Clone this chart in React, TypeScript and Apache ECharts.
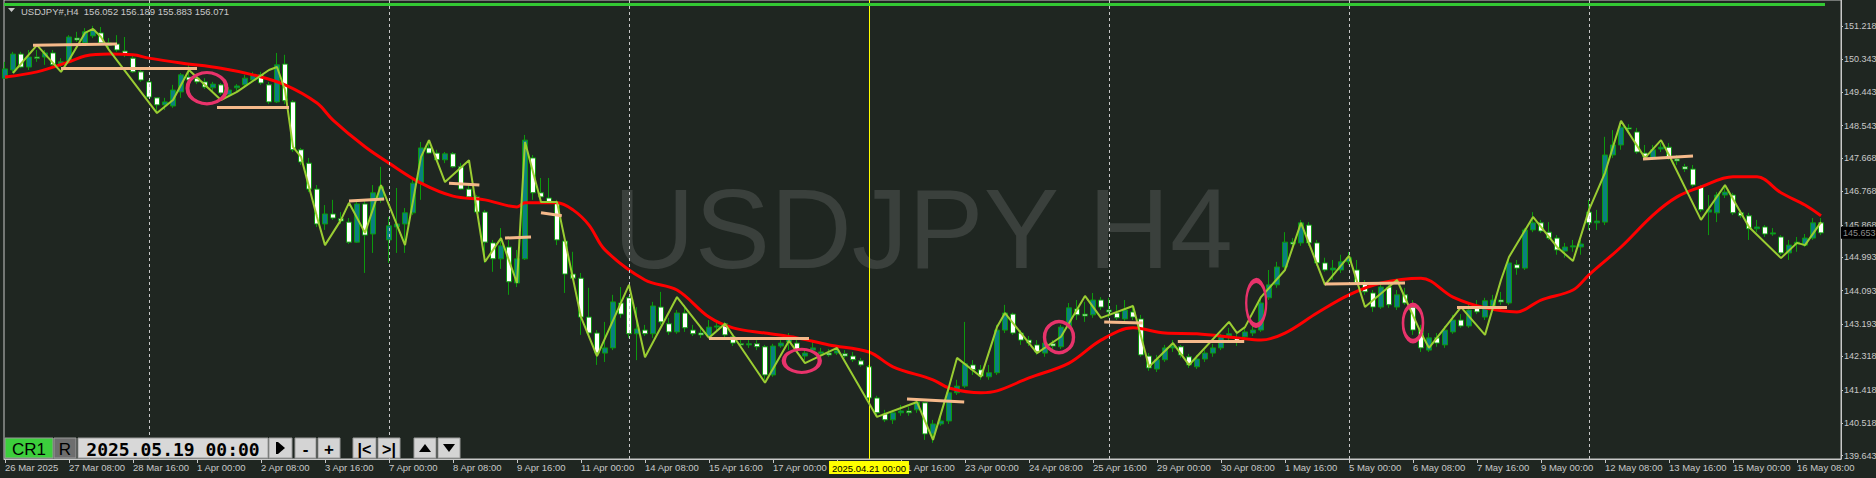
import { useEffect, useRef } from "react";
import * as echarts from "echarts";

// ---------- DATA ----------
const opens = [
  149.82,150.04,150.47,150.12,150.39,150.39,150.50,150.20,150.26,150.90,
  150.77,150.96,151.04,150.77,150.74,150.55,150.36,149.99,149.72,149.29,
  149.10,149.07,149.45,149.85,149.82,149.72,149.56,149.64,149.37,149.56,
  149.64,149.77,149.91,149.64,149.18,150.20,149.18,147.89,147.53,146.83,
  145.89,146.16,146.03,145.94,145.40,146.43,145.62,146.54,145.46,145.81,
  145.89,146.19,146.99,147.94,147.80,147.62,147.78,147.43,146.83,146.62,
  146.21,145.38,144.95,145.27,144.30,144.95,147.67,146.73,146.59,146.48,
  145.43,144.54,144.43,143.38,142.95,142.41,142.55,143.76,143.90,142.93,
  143.03,142.93,143.65,143.20,142.98,143.49,143.03,142.95,142.87,143.11,
  143.20,142.85,142.66,142.63,142.66,142.58,141.82,142.60,142.71,142.68,
  142.33,142.49,142.39,142.41,142.41,142.39,142.33,142.20,142.04,141.20,
  140.77,140.61,140.80,140.85,140.88,141.07,140.23,140.50,140.58,141.34,
  141.52,142.09,141.96,141.77,141.88,143.03,143.46,142.95,142.76,142.63,
  142.41,142.66,142.58,143.11,143.60,143.46,143.44,143.84,143.57,143.49,
  143.33,143.52,143.33,142.33,141.98,142.23,142.55,142.58,142.31,142.04,
  142.25,142.41,142.55,142.87,142.82,142.85,142.95,143.03,143.90,144.25,
  144.73,145.40,145.38,145.86,145.38,144.84,144.65,144.65,144.87,144.65,
  144.30,144.03,143.65,144.19,143.65,143.98,143.65,143.03,142.49,142.82,
  142.63,142.98,143.30,143.14,143.63,143.38,143.68,143.84,143.76,144.79,
  144.70,145.73,145.92,145.67,145.51,145.16,145.27,145.27,146.21,145.92,
  145.94,147.75,148.02,148.48,148.37,147.80,147.67,147.91,147.96,147.64,
  147.43,147.37,146.89,146.21,146.19,146.67,146.67,146.19,146.11,145.76,
  145.81,145.62,145.54,145.11,145.35,145.32,145.51,145.92,
];
const highs = [
  150.26,150.53,150.53,150.58,150.58,150.58,150.58,150.36,150.98,151.07,
  151.17,151.23,151.20,150.90,150.98,150.93,150.45,150.04,149.77,149.31,
  149.29,149.64,149.96,150.23,149.91,149.82,149.72,149.69,149.58,149.66,
  149.91,149.99,149.99,149.72,150.50,150.45,149.23,147.94,147.67,146.94,
  146.40,146.54,146.21,146.05,146.54,146.54,146.94,147.43,146.08,146.86,
  146.32,147.13,148.10,148.15,147.89,147.83,147.83,147.53,146.94,146.67,
  146.27,145.46,145.78,145.46,145.19,148.29,147.75,147.13,147.13,146.54,
  145.51,145.14,144.57,144.17,143.03,143.25,143.98,144.19,143.95,143.65,
  143.17,143.79,144.06,143.36,143.57,143.71,143.17,143.09,143.30,143.25,
  143.25,142.90,142.82,142.76,142.76,142.63,142.66,142.76,142.95,142.82,
  142.49,142.71,142.55,142.52,142.55,142.49,142.44,142.28,142.09,141.26,
  140.88,140.88,141.01,140.96,141.20,141.10,140.61,140.72,141.42,141.69,
  143.25,142.22,142.09,142.09,143.17,143.71,143.50,143.03,142.87,142.76,
  142.76,142.76,143.17,143.76,143.84,143.79,144.03,143.92,143.90,143.71,
  143.84,143.71,143.44,142.41,142.36,142.63,142.76,142.63,142.39,142.36,
  142.49,142.66,142.93,143.09,142.93,143.09,143.17,143.90,144.65,144.87,
  145.67,145.51,146.00,145.94,145.46,144.98,144.92,145.06,145.14,144.92,
  144.38,144.11,144.27,144.27,144.11,144.17,143.84,143.17,142.95,142.95,
  143.14,143.44,143.46,143.73,143.84,143.90,143.98,144.06,144.92,144.92,
  145.78,146.21,146.00,145.94,145.59,145.38,145.46,145.46,146.54,146.27,
  148.24,148.42,148.61,148.58,148.48,148.02,148.02,148.07,148.07,147.75,
  147.51,147.48,146.94,146.67,146.75,146.94,146.73,146.27,146.19,146.00,
  145.86,145.78,145.59,145.46,145.54,145.62,146.05,146.05,
];
const lows = [
  149.80,149.96,150.09,150.04,150.26,150.18,150.15,150.12,150.23,150.80,
  150.71,150.90,150.71,150.63,150.53,150.39,149.96,149.72,149.29,148.88,
  148.96,149.02,149.29,149.72,149.66,149.53,149.45,149.37,149.31,149.42,
  149.56,149.72,149.64,149.12,149.15,149.12,147.83,147.48,146.75,145.81,
  145.73,146.00,145.89,145.35,145.38,144.57,145.11,146.46,144.84,145.11,
  145.11,146.13,146.54,147.78,147.56,147.53,147.40,146.81,146.56,146.16,
  144.84,144.60,144.68,143.98,144.19,144.92,146.54,146.54,146.43,145.32,
  144.03,144.38,142.90,142.90,142.09,142.17,142.49,143.36,142.82,142.22,
  142.87,142.82,143.17,142.90,142.93,142.98,142.87,142.82,142.82,143.03,
  142.82,142.60,142.55,142.55,142.49,141.69,141.77,142.55,142.49,142.44,
  142.22,142.41,142.31,142.31,142.36,142.28,142.17,142.04,141.15,140.74,
  140.55,140.50,140.72,140.72,140.80,140.07,139.99,140.45,140.50,141.28,
  141.47,141.82,141.69,141.69,141.82,142.95,142.90,142.63,142.60,142.36,
  142.31,142.49,142.52,143.06,143.30,143.25,143.36,143.57,143.36,143.30,
  143.28,143.30,142.31,141.93,141.90,142.17,142.44,142.28,142.01,141.98,
  142.17,142.31,142.49,142.76,142.60,142.76,142.87,142.98,143.84,144.17,
  144.68,145.19,145.30,145.30,144.76,144.60,144.38,144.57,144.79,144.25,
  143.98,143.52,143.60,143.63,143.57,143.71,142.90,142.44,142.44,142.58,
  142.55,142.93,143.09,143.09,143.46,143.30,143.63,143.71,143.71,144.52,
  144.65,145.67,145.65,145.46,145.06,144.98,145.14,145.06,145.73,145.73,
  145.86,147.67,147.89,148.34,147.78,147.62,147.62,147.83,147.62,147.48,
  147.29,146.89,146.21,145.59,145.94,146.59,146.13,146.05,145.46,145.67,
  145.54,145.57,145.06,144.92,145.14,145.27,145.46,145.59,
];
const closes = [
  150.07,150.47,150.12,150.39,150.36,150.50,150.18,150.26,150.93,150.85,
  151.07,151.12,150.77,150.71,150.58,150.47,149.99,149.77,149.31,149.10,
  149.18,149.50,149.91,149.77,149.72,149.58,149.66,149.42,149.50,149.61,
  149.82,149.91,149.69,149.18,150.18,149.21,147.89,147.56,146.83,145.89,
  146.16,146.05,145.97,145.40,146.43,145.59,146.73,146.89,145.84,145.89,
  146.19,146.99,147.94,147.80,147.62,147.78,147.43,146.83,146.62,146.21,
  145.40,144.95,145.30,144.33,144.95,148.15,146.73,146.62,146.48,145.46,
  144.54,144.43,143.38,142.95,142.41,142.55,143.79,143.46,142.93,143.06,
  142.93,143.68,143.25,142.98,143.49,143.09,142.93,142.90,143.11,143.14,
  142.90,142.68,142.63,142.66,142.58,141.82,142.60,142.68,142.79,142.49,
  142.41,142.55,142.44,142.36,142.47,142.33,142.23,142.09,141.20,140.80,
  140.61,140.80,140.85,140.80,141.09,140.23,140.50,140.58,141.34,141.52,
  142.12,141.96,141.79,141.88,143.03,143.49,142.95,142.76,142.68,142.44,
  142.68,142.60,143.11,143.63,143.44,143.41,143.84,143.65,143.52,143.36,
  143.57,143.38,142.36,142.01,142.23,142.55,142.60,142.36,142.09,142.25,
  142.41,142.55,142.85,142.93,142.71,142.98,143.03,143.76,144.25,144.73,
  145.40,145.35,145.92,145.38,144.84,144.65,144.70,144.87,144.98,144.30,
  144.06,143.65,144.19,143.71,143.98,143.76,143.03,142.55,142.82,142.68,
  143.03,143.30,143.14,143.57,143.52,143.82,143.84,143.79,144.84,144.70,
  145.73,145.92,145.70,145.51,145.19,145.27,145.30,145.35,145.92,145.97,
  147.75,148.02,148.50,148.45,147.83,147.70,147.89,147.96,147.70,147.59,
  147.37,146.94,146.27,146.27,146.67,146.75,146.19,146.11,145.76,145.81,
  145.62,145.65,145.11,145.32,145.40,145.51,145.92,145.65,
];

// Moving average (red) — [bar index, price]
const maLine = [
  [0,149.85],[4,149.99],[8,150.26],[10,150.42],[13,150.47],[16,150.45],[18,150.36],[22,150.23],
  [27,150.09],[31,149.91],[35,149.64],[39,149.15],[41,148.69],[45,147.97],[48,147.53],[52,146.99],
  [56,146.64],[60,146.54],[64,146.35],[65,146.46],[69,146.46],[71,146.27],[73,145.86],[75,145.19],
  [80,144.38],[84,144.11],[88,143.38],[91,143.09],[95,142.95],[99,142.82],[103,142.63],[108,142.44],
  [111,142.04],[116,141.69],[118,141.47],[122,141.34],[124,141.39],[128,141.74],[133,142.14],[137,142.76],
  [141,143.09],[145,142.95],[149,142.93],[154,142.82],[157,142.76],[160,142.95],[164,143.49],[168,143.98],
  [172,144.30],[177,144.43],[181,143.92],[185,143.63],[189,143.52],[192,143.84],[196,144.11],[198,144.52],
  [202,145.27],[206,146.13],[209,146.62],[212,146.89],[216,147.16],[219,147.16],[222,146.73],[225,146.40],
  [227,146.11],
];

// Light-green swing line — [bar index, price]
const swingLine = [
  [1,149.96],[4,150.71],[7,149.99],[8,150.31],[10,151.04],[11,151.15],[12,150.93],[13,150.58],
  [19,148.88],[21,149.23],[23,150.04],[27,149.23],[29,149.45],[33,150.04],[34,150.12],[35,149.50],
  [36,147.97],[37,147.70],[39,146.08],[40,145.32],[42,146.00],[43,146.46],[45,145.65],[47,146.94],
  [50,145.32],[52,147.70],[53,148.15],[55,147.02],[58,147.61],[60,144.87],[62,145.51],[64,144.30],
  [65,148.10],[67,146.48],[69,146.48],[72,143.38],[74,142.33],[78,144.25],[80,142.30],[84,143.92],
  [88,142.82],[90,143.20],[95,141.61],[98,142.74],[100,142.14],[104,142.55],[109,140.69],[112,140.93],
  [114,141.09],[116,140.07],[118,141.50],[119,142.28],[122,141.77],[124,143.11],[125,143.49],[129,142.41],
  [132,142.85],[135,143.95],[137,143.36],[141,143.68],[143,142.04],[146,142.68],[148,142.09],[153,143.25],
  [154,142.95],[155,143.11],[157,143.92],[160,144.65],[162,145.92],[165,144.25],[168,145.03],[170,143.65],
  [174,144.38],[177,142.95],[178,142.55],[182,143.65],[185,142.90],[187,144.38],[188,145.00],[191,146.08],
  [194,145.27],[196,144.89],[198,146.27],[200,147.27],[202,148.67],[205,147.67],[207,148.15],[208,147.75],
  [212,146.00],[215,146.94],[218,145.81],[222,144.97],[224,145.38],[225,145.32],[227,145.94],
];

// Orange trend segments — [startIdx, startPrice, endIdx, endPrice]
const levelSegments = [
  [3.5,150.71,14,150.74],[7,150.09,24,150.09],[26.5,149.04,35.5,149.04],[43,146.51,47.4,146.56],
  [55.5,146.99,59.3,146.94],[62.5,145.51,65.75,145.54],[67,146.19,69.6,146.11],[88,142.82,100.5,142.82],
  [112.75,141.17,119.9,141.09],[137.4,143.25,142.2,143.22],[146.6,142.74,154.9,142.74],
  [165,144.27,175,144.30],[181.5,143.65,187.75,143.65],[204.75,147.64,211,147.72],
];

// Pink ellipse markers — [bar index, price]
const markerCenters = [[25.25,149.55],[99.6,142.2],[131.75,142.84],[156.4,143.76],[176,143.22]];

const separatorIdx = [18, 48, 78, 138, 168, 198];
const cursorIdx = 108;
const cursorLabel = "2025.04.21 00:00";
const lastPrice = 145.653;

const xLabelIdx = [0,8,16,24,32,40,48,56,64,72,80,88,96,104,112,120,128,136,144,152,160,168,176,184,192,200,208,216,224];
const xLabelText = [
  "26 Mar 2025","27 Mar 08:00","28 Mar 16:00","1 Apr 00:00","2 Apr 08:00","3 Apr 16:00","7 Apr 00:00",
  "8 Apr 08:00","9 Apr 16:00","11 Apr 00:00","14 Apr 08:00","15 Apr 16:00","17 Apr 00:00","",
  "21 Apr 16:00","23 Apr 00:00","24 Apr 08:00","25 Apr 16:00","29 Apr 00:00","30 Apr 08:00","1 May 16:00",
  "5 May 00:00","6 May 08:00","7 May 16:00","9 May 00:00","12 May 08:00","13 May 16:00","15 May 00:00","16 May 08:00",
];
const yTickVals = [151.218,150.343,149.443,148.543,147.668,146.768,145.868,144.993,144.093,143.193,142.318,141.418,140.518,139.643];

const titleText = "USDJPY#,H4  156.052 156.189 155.883 156.071";
const watermark = "USDJPY H4";
const panelDate = "2025.05.19 00:00";

// ---------- STYLE ----------
const FONT = '"Liberation Sans", Arial, sans-serif';
const BG = "#1f2621";
const AX = "#c8c8c8";
const markerSizes = [[39,31],[36,23],[29,31],[20,45],[20,36]];

export default function App() {
  const ref = useRef<HTMLDivElement>(null);
  useEffect(() => {
    document.body.style.margin = "0";
    document.body.style.background = BG;
    const chart = echarts.init(ref.current!, null, { renderer: "svg" });

    const candleData = opens.map((o, i) => [i, o, closes[i], lows[i], highs[i]]);

    const PY = 438, PH = 20;
    const btn = (x: number, w: number, fill: string, extra: any[] = []) => [
      { type: "rect", z: 100, shape: { x, y: PY, width: w, height: PH }, style: { fill, stroke: "#9a9a9a", lineWidth: 1 } },
      ...extra,
    ];
    const txt = (x: number, t: string, size: number, family: string, weight = "normal") => ({
      type: "text", z: 101, x, y: PY + PH / 2 + 1,
      style: { text: t, fill: "#000", font: `${weight} ${size}px ${family}`, align: "center", verticalAlign: "middle", textAlign: "center", textVerticalAlign: "middle" },
    });
    const poly = (pts: number[][]) => ({ type: "polygon", z: 101, shape: { points: pts }, style: { fill: "#000" } });

    const graphic: any[] = [
      {
        type: "text", z: -1, x: 923, y: 229, silent: true,
        style: { text: watermark, fill: "#3a403c", font: `113px ${FONT}`, align: "center", verticalAlign: "middle", textAlign: "center", textVerticalAlign: "middle" },
      },
      { type: "rect", z: 50, shape: { x: 4, y: 3, width: 1821, height: 3 }, style: { fill: "#33c833" } },
      { type: "polygon", z: 50, shape: { points: [[8, 8], [15, 8], [11.5, 12]] }, style: { fill: AX } },
      {
        type: "text", z: 50, x: 21, y: 11,
        style: { text: titleText, fill: AX, font: `9.5px ${FONT}`, verticalAlign: "middle", textVerticalAlign: "middle" },
      },
      ...btn(5, 48, "#3ccf3c", [txt(29, "CR1", 17, FONT)]),
      ...btn(54, 22, "#6e6e6e", [txt(65, "R", 17, FONT)]),
      ...btn(78, 190, "#d8d8d8", [txt(173, panelDate, 18, '"DejaVu Sans Mono", monospace', "bold")]),
      ...btn(269, 23, "#d4d4d4", [poly([[278, 442], [285, 448], [278, 454]]), { type: "rect", z: 101, shape: { x: 276, y: 442, width: 2, height: 12 }, style: { fill: "#000" } }]),
      ...btn(295, 21, "#d4d4d4", [txt(305.5, "-", 17, FONT, "bold")]),
      ...btn(318, 22, "#d4d4d4", [txt(329, "+", 17, FONT, "bold")]),
      ...btn(353, 23, "#d4d4d4", [txt(364.5, "|<", 16, FONT, "bold")]),
      ...btn(378, 22, "#d4d4d4", [txt(389, ">|", 16, FONT, "bold")]),
      ...btn(414, 22, "#d4d4d4", [poly([[419, 452], [431, 452], [425, 444]])]),
      ...btn(438, 22, "#d4d4d4", [poly([[443, 444], [455, 444], [449, 452]])]),
    ];

    const option: any = {
      animation: false,
      backgroundColor: BG,
      textStyle: { fontFamily: FONT },
      grid: {
        left: 4, top: 0, width: 1837, height: 459, show: true, borderColor: AX, borderWidth: 1,
        backgroundColor: "transparent", containLabel: false, outerBoundsMode: "none",
      },
      xAxis: {
        type: "value", min: -0.125, max: 229.5,
        splitLine: { show: false },
        axisLine: { show: true, onZero: false, lineStyle: { color: AX } },
        axisTick: { show: true, customValues: xLabelIdx, length: 4, lineStyle: { color: AX } },
        axisLabel: {
          show: true, customValues: xLabelIdx, align: "left", margin: 3, color: AX, fontSize: 9.5, fontFamily: FONT,
          formatter: (v: number) => { const k = xLabelIdx.indexOf(Math.round(v)); return k >= 0 ? xLabelText[k] : ""; },
        },
      },
      yAxis: {
        type: "value", position: "right", min: 139.555, max: 151.927,
        splitLine: { show: false },
        axisLine: { show: true, onZero: false, lineStyle: { color: AX } },
        axisTick: { show: true, customValues: yTickVals, length: 2, lineStyle: { color: AX } },
        axisLabel: { show: true, customValues: yTickVals, margin: 3, color: AX, fontSize: 9, fontFamily: FONT, formatter: (v: number) => v.toFixed(3) },
      },
      graphic,
      series: [
        {
          type: "candlestick", name: "USDJPY", z: 3, clip: false, barWidth: 5,
          data: candleData,
          itemStyle: { color: "#0a8080", color0: "#ffffff", borderColor: "#0c9a0c", borderColor0: "#0c9a0c", borderWidth: 1 },
          markLine: {
            silent: true, symbol: ["none", "none"], precision: 3,
            label: { show: false },
            data: [
              ...separatorIdx.map((x) => ({ xAxis: x, lineStyle: { color: AX, type: [3, 3], width: 1 } })),
              {
                xAxis: cursorIdx, lineStyle: { color: "#ffff00", type: "solid", width: 1 },
                label: { show: true, position: "start", formatter: cursorLabel, backgroundColor: "#ffff00", color: "#000", fontSize: 9.5, fontFamily: FONT, padding: [2, 3, 1, 3], distance: 2 },
              },
              {
                yAxis: lastPrice, lineStyle: { color: "rgba(0,0,0,0)", width: 0, type: "solid" },
                label: { show: true, position: "end", formatter: lastPrice.toFixed(3), backgroundColor: "#000000", color: "#8c8c8c", fontSize: 9, fontFamily: FONT, padding: [2, 1, 1, 2], distance: 0 },
              },
            ],
          },
        },
        {
          type: "line", name: "MA", z: 4, data: maLine, smooth: 0.35, symbol: "none", showSymbol: false,
          lineStyle: { color: "#ff0000", width: 3 }, silent: true,
        },
        {
          type: "line", name: "Swing", z: 5, data: swingLine, smooth: false, symbol: "none", showSymbol: false,
          lineStyle: { color: "#9acd32", width: 2 }, silent: true,
        },
        {
          type: "lines", name: "Levels", coordinateSystem: "cartesian2d", z: 6, silent: true,
          data: levelSegments.map((s) => ({ coords: [[s[0], s[1]], [s[2], s[3]]] })),
          lineStyle: { color: "#f5b98a", width: 3, opacity: 1, curveness: 0 },
        },
        {
          type: "scatter", name: "Marks", z: 7, symbol: "circle", silent: true,
          data: markerCenters.map((c, k) => ({ value: c, symbolSize: markerSizes[k] })),
          itemStyle: { color: "rgba(0,0,0,0)", borderColor: "#e8336b", borderWidth: 3.5, opacity: 1 },
        },
      ],
    };
    chart.setOption(option);
    return () => chart.dispose();
  }, []);
  return <div ref={ref} style={{ width: 1876, height: 478 }} />;
}
